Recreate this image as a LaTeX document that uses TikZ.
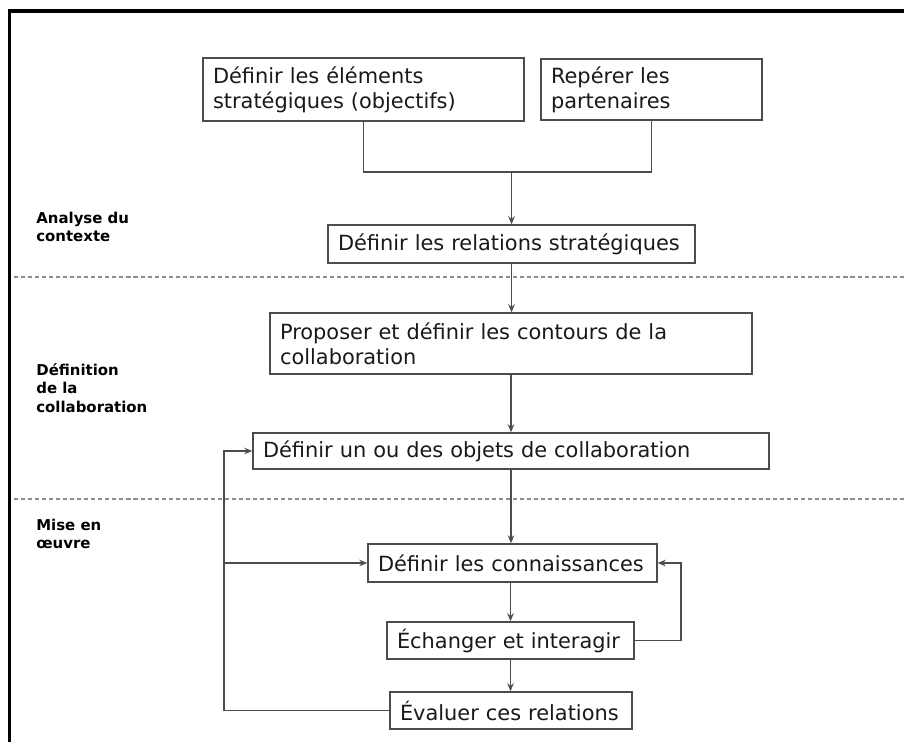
\documentclass[tikz,border=0pt]{standalone}
\usepackage{fontspec}
\setmainfont{DejaVu Sans}
\usetikzlibrary{arrows.meta}
\newcommand{\boitefont}{\fontsize{11.9}{14.2}\selectfont}
\newcommand{\phasefont}{\fontsize{8.5}{10.6}\selectfont\bfseries}
\tikzset{
  boite/.style={draw=black!70, line width=0.8pt, inner xsep=0.2cm, inner ysep=0pt,
    align=left, font=\boitefont, text=black!90},
  phase/.style={anchor=west, inner sep=0pt, align=left, font=\phasefont},
  lien/.style={draw=black!70, line width=0.8pt},
  fleche/.style={lien, -{Stealth[length=1.6mm,width=1.3mm]}},
  separation/.style={draw=black!45, line width=0.6pt, dash pattern=on 2.3pt off 1.7pt}
}
\begin{document}
\begin{tikzpicture}
        \useasboundingbox (0,0) rectangle (18.08,-14.84);
        % cadre
        \draw[line width=2pt] (18.08,-0.22)--(0.19,-0.22)--(0.19,-14.84);
        \draw[separation] (0.28,-5.54)--(18.08,-5.54);
        \draw[separation] (0.28,-9.98)--(18.08,-9.98);
        % phases
        \node[phase] (analyse) at (0.72,-4.54) {Analyse du\\contexte};
        \node[phase] (definition) at (0.72,-7.76) {Définition\\de la\\collaboration};
        \node[phase] (miseoeuvre) at (0.72,-10.68) {Mise en\\œuvre};
        % etapes
        \node[boite, text width=6.02cm, minimum height=1.26cm] (elem) at (7.27,-1.79) {Définir les éléments\\stratégiques (objectifs)};
        \node[boite, text width=4.02cm, minimum height=1.22cm] (part) at (13.03,-1.79) {Repérer les\\partenaires};
        \node[boite, text width=6.94cm, minimum height=0.76cm] (rel) at (10.23,-4.88) {Définir les relations stratégiques};
        \node[boite, text width=9.24cm, minimum height=1.22cm] (prop) at (10.22,-6.87) {Proposer et définir les contours de la\\collaboration};
        \node[boite, text width=9.92cm, minimum height=0.72cm] (obj) at (10.22,-9.02) {Définir un ou des objets de collaboration};
        \node[boite, text width=5.38cm, minimum height=0.76cm] (conn) at (10.25,-11.26) {Définir les connaissances};
        \node[boite, text width=4.54cm, minimum height=0.74cm] (ech) at (10.21,-12.81) {Échanger et interagir};
        \node[boite, text width=4.44cm, minimum height=0.74cm] (eval) at (10.22,-14.21) {Évaluer ces relations};
        % liens
        \coordinate (jonction) at (10.23,-3.44);
        \coordinate (gauche) at (4.48,0);
        \coordinate (droite) at (13.62,0);
        \draw[lien] (elem.south) |- (jonction) -| (part.south);
        \draw[fleche] (jonction) -- (rel.north);
        \draw[fleche] (rel.south) -- (prop.north -| rel.south);
        \draw[fleche] (prop.south) -- (obj.north);
        \draw[fleche] (obj.south) -- (conn.north -| obj.south);
        \draw[fleche] (conn.south -| ech.north) -- (ech.north);
        \draw[fleche] (ech.south) -- (eval.north -| ech.south);
        \draw[fleche] (ech.east) -- (ech.east -| droite) |- (conn.east);
        \draw[fleche] (eval.west) -- (eval.west -| gauche) |- (obj.west);
        \draw[fleche] (conn.west -| gauche) -- (conn.west);
\end{tikzpicture}
\end{document}
